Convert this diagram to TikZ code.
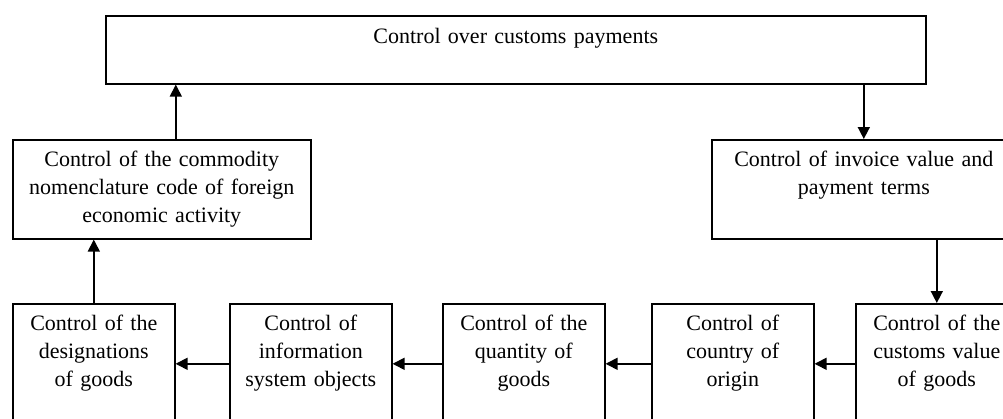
\documentclass[tikz,border=0pt]{standalone}
\usepackage{fontspec}
\setmainfont{Liberation Serif}
\usetikzlibrary{arrows.meta}

\begin{document}
\begin{tikzpicture}[x=1pt, y=-1pt, >={Triangle[length=12pt,width=12pt]},
  box/.style={draw, line width=1.6pt, inner sep=0pt, anchor=north west, align=center,
    text height=27pt, font=\fontsize{22}{28}\selectfont},
  topbox/.style={box, text width=820pt, text height=28pt, text depth=40pt},
  midbox/.style={box, text width=298pt, text depth=72pt},
  lowbox/.style={box, text width=162pt, text depth=93pt},
  link/.style={->, line width=1.6pt}]
\useasboundingbox (0,0) rectangle (1003,418);
\clip (0,0) rectangle (1003,418);

\node [topbox] (payments) at (105,15) {Control over customs payments};
\node [midbox] (code) at (12,139) {Control of the commodity\\nomenclature code of foreign\\economic activity};
\node [midbox, text width=304pt] (invoice) at (711,139) {Control of invoice value and\\payment terms};

\node [lowbox] (designation) at (12,303) {Control of the\\designations\\of goods};
\node [lowbox] (info) at (229,303) {Control of\\information\\system objects};
\node [lowbox] (quantity) at (442,303) {Control of the\\quantity of\\goods};
\node [lowbox] (origin) at (651,303) {Control of\\country of\\origin};
\node [lowbox] (value) at (855,303) {Control of the\\customs value\\of goods};

\draw [link] (payments.south -| invoice.north) -- (invoice.north);
\draw [link] (invoice.south -| value.north) -- (value.north);
\draw [link] (value.west) -- (origin.east);
\draw [link] (origin.west) -- (quantity.east);
\draw [link] (quantity.west) -- (info.east);
\draw [link] (info.west) -- (designation.east);
\draw [link] (designation.north) -- (code.south -| designation.north);
\draw [link] ([xshift=14pt]code.north) -- ([xshift=14pt]code.north |- payments.south);
\end{tikzpicture}
\end{document}
